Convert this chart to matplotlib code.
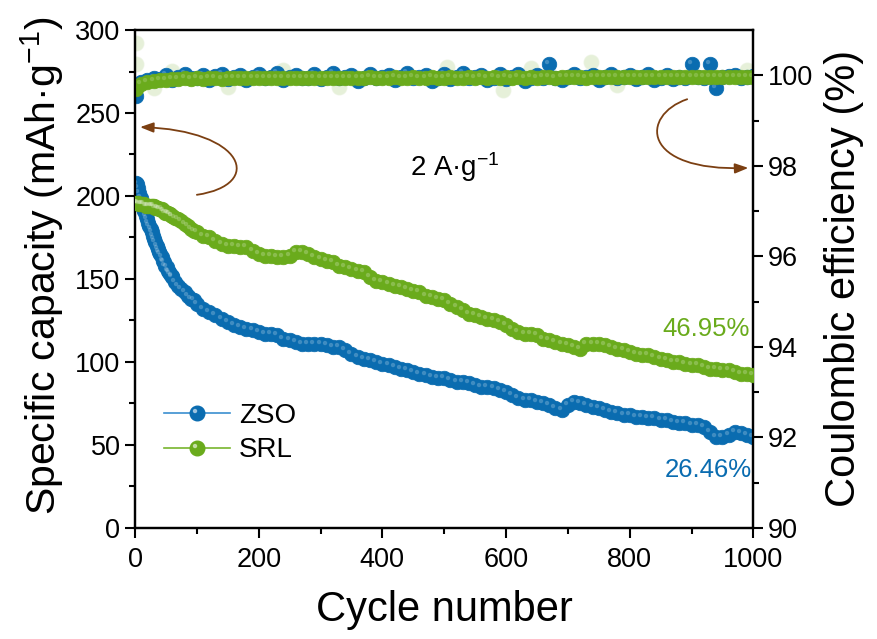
import numpy as np
import matplotlib
matplotlib.use('Agg')
import matplotlib.pyplot as plt
from matplotlib.path import Path
from matplotlib.patches import FancyArrowPatch
from matplotlib.lines import Line2D
from matplotlib.legend_handler import HandlerTuple

plt.rcParams['font.family'] = ['Liberation Sans', 'DejaVu Sans']
plt.rcParams['mathtext.default'] = 'regular'

# capacity is sampled densely over the fast early fade, then every 10 cycles
cap_cycles = np.array(list(range(1, 60, 2)) + list(range(60, 100, 5)) + list(range(100, 1001, 10)))

zso_cap = [208, 207, 205, 202, 199, 196, 193, 191, 188, 186,
           184, 182, 180, 178, 176, 174, 172, 170, 168, 166,
           165, 163, 161, 160, 158, 157, 155, 154, 153, 152,
           151, 148, 146, 144, 142, 140, 138, 137,
           135, 132, 130, 128, 126, 124, 122, 121, 120, 119,
           118, 117, 117, 116, 114, 113, 112, 111, 111, 111,
           111, 110, 109, 109, 107, 105, 103, 102, 101, 100,
           99, 98, 97, 96, 95, 94, 93, 92, 91, 90,
           90, 89, 88, 88, 87, 86, 85, 85, 84, 83,
           82, 80, 78, 77, 77, 76, 75, 74, 72, 71,
           74, 76, 75, 74, 73, 72, 71, 70, 69, 68,
           68, 67, 67, 66, 66, 65, 65, 64, 63, 63,
           62, 62, 61, 58, 55, 55, 56, 58, 57, 56,
           55]

srl_cap = [196, 196, 196, 195, 195, 195, 195, 195, 194, 194,
           194, 194, 194, 194, 194, 194, 193, 193, 193, 192,
           192, 192, 191, 191, 190, 190, 190, 189, 189, 188,
           188, 187, 186, 185, 183, 182, 180, 179,
           178, 176, 175, 173, 171, 170, 170, 169, 169, 167,
           165, 164, 164, 163, 163, 164, 166, 166, 165, 163,
           162, 161, 160, 158, 157, 156, 155, 154, 151, 149,
           148, 147, 146, 145, 144, 143, 142, 140, 139, 138,
           137, 135, 133, 131, 129, 128, 127, 126, 125, 124,
           122, 120, 118, 117, 117, 116, 114, 113, 112, 111,
           110, 109, 108, 111, 111, 111, 110, 109, 108, 107,
           106, 105, 104, 104, 103, 102, 101, 100, 100, 99,
           98, 98, 97, 96, 96, 95, 95, 94, 93, 93,
           92]

# coulombic efficiency every 10 cycles
ce_cycles = np.array([1] + list(range(10, 1001, 10)))

zso_ce = [99.55, 99.85, 99.9, 99.95, 99.92, 100.0, 99.9, 99.97, 100.02, 99.93,
          99.95, 100.0, 99.9, 99.98, 100.03, 99.92, 99.96, 100.0, 99.9, 99.97,
          100.02, 99.94, 99.96, 100.05, 99.9, 99.97, 100.0, 99.93, 99.95, 100.02,
          99.91, 99.97, 100.05, 99.93, 99.96, 100.0, 99.88, 99.95, 100.02, 99.94,
          99.97, 100.0, 99.9, 99.96, 100.04, 99.93, 99.97, 100.0, 99.88, 99.95,
          100.03, 99.92, 99.97, 100.05, 99.94, 99.96, 100.0, 99.9, 99.95, 100.03,
          99.91, 99.96, 100.02, 99.88, 99.95, 100.0, 99.93, 100.25, 99.95, 99.9,
          99.97, 100.02, 99.94, 99.96, 100.0, 99.9, 99.97, 100.03, 99.93, 99.96,
          100.0, 99.92, 99.96, 100.02, 99.9, 99.95, 100.0, 99.92, 99.97, 99.95,
          100.25, 99.96, 99.94, 100.25, 99.72, 99.96, 99.98, 100.0, 99.95, 99.97,
          99.98]

srl_ce = [99.7, 99.8, 99.85, 99.88, 99.9, 99.9, 99.92, 99.91, 99.93, 99.92,
          99.93, 99.92, 99.94, 99.93, 99.92, 99.94, 99.93, 99.94, 99.93, 99.94,
          99.94, 99.93, 99.94, 99.95, 99.93, 99.94, 99.95, 99.94, 99.93, 99.95,
          99.94, 99.95, 99.94, 99.95, 99.94, 99.95, 99.94, 99.95, 99.96, 99.94,
          99.95, 99.94, 99.96, 99.95, 99.94, 99.96, 99.95, 99.94, 99.96, 99.95,
          99.95, 99.96, 99.95, 99.94, 99.96, 99.95, 99.96, 99.95, 99.96, 99.95,
          99.96, 99.95, 99.96, 99.95, 99.96, 99.95, 99.96, 99.97, 99.95, 99.96,
          99.96, 99.97, 99.96, 99.95, 99.97, 99.96, 99.97, 99.96, 99.97, 99.96,
          99.97, 99.96, 99.97, 99.96, 99.97, 99.97, 99.96, 99.97, 99.96, 99.97,
          99.97, 99.96, 99.97, 99.97, 99.96, 99.97, 99.97, 99.96, 99.97, 99.97,
          99.97]

# scattered SRL efficiency points drawn faded
srl_ce_out_x = [1, 2, 30, 60, 150, 240, 330, 505, 595, 640, 738, 780, 990]
srl_ce_out_y = [100.72, 100.25, 99.72, 100.1, 99.75, 100.12, 99.74, 100.18, 99.68, 100.15, 100.3, 99.78, 100.12]

blue = '#0a6cb0'
green = '#6aab1c'
blue_line = '#3b8fd0'
green_line = '#78b52e'
brown = '#7b3f12'

# small off-centre circle used as a glossy highlight on the markers
_c = Path.circle(center=(-0.17, 0.17), radius=0.15)
hl_path = Path(np.vstack([[[0.5, 0.5]], _c.vertices]), [Path.MOVETO] + list(_c.codes))

ms = 10.5

fig = plt.figure(figsize=(8.77, 6.39), dpi=100)
ax = fig.add_axes([0.154, 0.174, 0.705, 0.779])
ax2 = ax.twinx()


def balls(a, x, y, color, hl_alpha=0.22, **kw):
    a.plot(x, y, 'o', ms=ms, mfc=color, mec=color, mew=0.5, **kw)
    a.plot(x, y, ls='none', marker=hl_path, ms=ms, mfc='white', mec='none', alpha=hl_alpha, **kw)


# coulombic efficiency on the right axis
ax2.plot(srl_ce_out_x, srl_ce_out_y, 'o', ms=ms, mfc='#dcebc9', mec='#e6f0da', alpha=0.7, zorder=1)
balls(ax2, ce_cycles, zso_ce, blue, zorder=2)
balls(ax2, ce_cycles, srl_ce, green, hl_alpha=0.18, zorder=3)

# capacity on the left axis
balls(ax, cap_cycles, zso_cap, blue, zorder=2)
balls(ax, cap_cycles, srl_cap, green, zorder=3)

ax.set_zorder(ax2.get_zorder() + 1)
ax.patch.set_visible(False)

ax.set_xlim(0, 1000)
ax.set_ylim(0, 300)
ax2.set_ylim(90, 101)
ax.set_xticks(range(0, 1001, 200))
ax.set_xticks(range(100, 1000, 200), minor=True)
ax.set_yticks(range(0, 301, 50))
ax.set_yticks(range(25, 300, 50), minor=True)
ax2.set_yticks(range(90, 101, 2))
ax2.set_yticks(range(91, 101, 2), minor=True)

for a in (ax, ax2):
    a.tick_params(which='major', direction='out', length=7, width=1.5, labelsize=19.5)
    a.tick_params(which='minor', direction='out', length=4, width=1.5)
    for s in a.spines.values():
        s.set_linewidth(1.6)
ax.tick_params(axis='x', pad=7)

ax.set_xlabel('Cycle number', fontsize=30, labelpad=12)
ax.set_ylabel('Specific capacity (mAh·g$^{-1}$)', fontsize=29.5)
ax.yaxis.set_label_coords(-0.112, 0.526)
ax2.set_ylabel('Coulombic efficiency (%)', fontsize=30, labelpad=8)

ax.text(0.518, 0.725, '2 A·g$^{-1}$', transform=ax.transAxes, fontsize=20,
        ha='center', va='center')
ax.text(0.994, 0.40, '46.95%', transform=ax.transAxes, fontsize=18.5,
        color=green, ha='right', va='center')
ax.text(0.998, 0.117, '26.46%', transform=ax.transAxes, fontsize=18.5,
        color=blue, ha='right', va='center')

# curved arrows pointing at each axis
arrow_l = Path([(0.100, 0.669), (0.210, 0.689), (0.178, 0.799), (0.008, 0.805)],
               [Path.MOVETO, Path.CURVE4, Path.CURVE4, Path.CURVE4])
arrow_r = Path([(0.893, 0.861), (0.817, 0.829), (0.817, 0.715), (0.992, 0.723)],
               [Path.MOVETO, Path.CURVE4, Path.CURVE4, Path.CURVE4])
for p in (arrow_l, arrow_r):
    ax.add_patch(FancyArrowPatch(path=p, transform=ax.transAxes, color=brown,
                                 arrowstyle='-|>,head_length=8,head_width=3',
                                 lw=1.3, zorder=5))

h_zso = (Line2D([], [], color=blue_line, lw=1.2, marker='o', ms=ms, mfc=blue, mec=blue),
         Line2D([], [], ls='none', marker=hl_path, ms=ms, mfc='white', mec='none', alpha=0.6))
h_srl = (Line2D([], [], color=green_line, lw=1.2, marker='o', ms=ms, mfc=green, mec=green),
         Line2D([], [], ls='none', marker=hl_path, ms=ms, mfc='white', mec='none', alpha=0.6))
ax.legend([h_zso, h_srl], ['ZSO', 'SRL'], handler_map={tuple: HandlerTuple(ndivide=1)},
          loc='center left', bbox_to_anchor=(0.006, 0.19), frameon=False,
          fontsize=20, handlelength=2.4, handletextpad=0.3, labelspacing=0.3, numpoints=1)

fig.savefig('out.png', dpi=100)
